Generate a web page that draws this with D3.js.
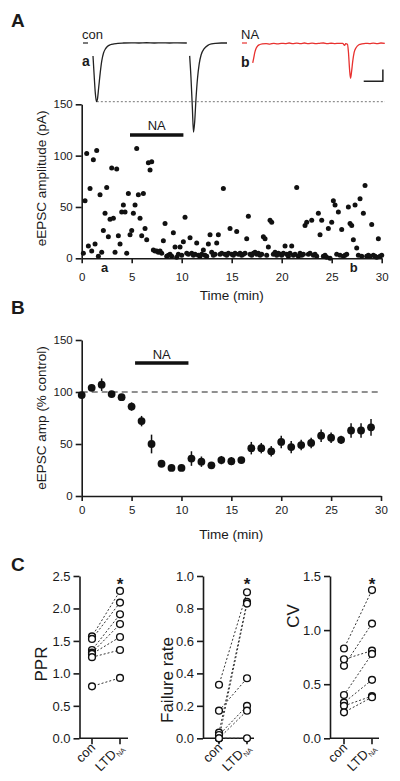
<!DOCTYPE html>
<html><head><meta charset="utf-8">
<script src="https://cdn.jsdelivr.net/npm/d3@7/dist/d3.min.js"></script>
<style>
body{margin:0;background:#fff}
svg{display:block}
text{font-family:"Liberation Sans",Arial,sans-serif;fill:#1a1a1a}
</style>
</head><body>
<svg id="fig" width="400" height="781"></svg>
<script>
// ---------- Panel A: single-sweep eEPSC amplitudes (one sweep every 10 s) ----------
const sweepIntervalMin = 1 / 6;
const sweepAmps = [
  5, 56, 102, 12, 68, 7, 96, 14, 105, 2, 62, 6, 27, 44, 69, 21, 38, 88, 39, 6,
  87, 22, 14, 45, 52, 45, 5, 63, 23, 27, 44, 52, 107, 62, 39, 22, 63, 29, 18, 93,
  86, 94, 8, 7, 7, 6, 7, 5, 17, 34, 2, 3, 4, 2, 25, 11, 1, 4, 11, 3,
  16, 40, 5, 4, 20, 5, 3, 4, 15, 3, 2, 4, 8, 3, 2, 14, 23, 6, 3, 4,
  15, 23, 4, 5, 68, 4, 3, 5, 29, 4, 3, 5, 26, 4, 5, 3, 4, 5, 19, 41,
  4, 3, 5, 6, 4, 5, 3, 4, 21, 19, 3, 11, 37, 35, 4, 6, 3, 5, 4, 3,
  5, 12, 4, 2, 5, 12, 3, 4, 69, 2, 5, 3, 4, 32, 35, 4, 5, 37, 3, 4,
  2, 44, 23, 37, 2, 3, 1, 29, 0, 35, 56, 52, 4, 45, 3, 28, 2, 3, 4, 50,
  34, 32, 18, 52, 10, 3, 58, 2, 44, 71, 2, 3, 2, 33, 3, 2, 1, 19, 2, 3
];
const naBarA = [4.83, 10.17];
const timeTicks = [0, 5, 10, 15, 20, 25, 30];
const ampTicks = [0, 50, 100, 150];
const sampleSweeps = [{label: "a", t: 2.3}, {label: "b", t: 27.2}];

// example traces (ms, pA)
const traceConA = [[0,-22],[0.6,-55],[1.2,-85],[1.8,-100],[2.3,-96],[3,-75],[3.8,-50],[4.6,-30],[5.5,-17],[6.5,-10],[7.5,-6],[9,-3],[11,-1.5],[13,-0.5],[16,0],[20,0.3],[24,0],[28,0.4],[32,0],[36,0.3],[40,0],[44,0.3],[49,0]];
const traceConB = [[50.5,-22],[51.2,-60],[51.9,-110],[52.5,-152],[53.1,-135],[53.8,-95],[54.6,-60],[55.5,-35],[56.5,-20],[58,-10],[60,-4],[62,-1.5],[64,-0.5],[67,0],[70,0]];
const traceNA = [[0,-34],[0.5,-26],[1.1,-16],[1.8,-9],[2.6,-5],[3.5,-3],[5,-1.5],[7,-1],[9,-2],[11,-0.5],[13,-1.5],[15,-0.5],[17,-1],[19,0],[21,-1.2],[23,-0.3],[25,-1],[27,0],[29,-1],[31,-0.3],[33,-1.2],[35,-0.5],[37,0],[39,-1],[41,-0.4],[43,-1],[45,-0.5],[47,-0.8],[48,-4],[48.6,-1],[49.5,-2],[50,-15],[50.6,-45],[51.1,-60],[51.6,-50],[52.3,-30],[53,-16],[54,-8],[55.5,-3],[57,-1.5],[59,-0.5],[61,-1],[63,-0.3],[65,-1],[67,0],[69,-0.5]];
const scaleBar = {ms: 10, pA: 20};

// ---------- Panel B: averaged time course ----------
const avgTimes = [0,1,2,3,4,5,6,7,8,9,10,11,12,13,14,15,16,17,18,19,20,21,22,23,24,25,26,27,28,29];
const avgMeans = [97,104,107,98,95,86,72,50,31,27,27,36,33,29.5,34.5,33.5,34.5,46,46,43,52,47,49,51,58,56,54,63,63,66];
const avgErrs  = [3,3,6,3,3,4,5,9,3,2,2,7,5,3,4,4,3,6,5,5,6,6,5,5,6,5,4,7,7,8];
const naBarB = [5.35, 10.7];
const pctTicks = [0, 50, 100, 150];

// ---------- Panel C: paired comparisons ----------
const groups = ["con", "LTD"];
const pprCon  = [1.57, 1.53, 1.36, 1.32, 1.30, 1.25, 0.80];
const pprLtd  = [2.27, 2.09, 1.91, 1.76, 1.56, 1.36, 0.93];
const failCon = [0.33, 0.035, 0.0, 0.17, 0.02, 0.0, 0.0];
const failLtd = [0.90, 0.84, 0.83, 0.37, 0.20, 0.17, 0.0];
const cvCon   = [0.83, 0.67, 0.73, 0.40, 0.33, 0.30, 0.24];
const cvLtd   = [1.37, 1.06, 0.81, 0.78, 0.54, 0.39, 0.38];
const pprTicks  = [0, 0.5, 1.0, 1.5, 2.0, 2.5];
const failTicks = [0, 0.2, 0.4, 0.6, 0.8, 1.0];
const cvTicks   = [0, 0.5, 1.0, 1.5];

// =====================================================================
const svg = d3.select("#fig");
const ink = "#1a1a1a";

function styleAxis(g, w) {
  g.selectAll(".domain").attr("stroke", ink).attr("stroke-width", w || 1.6);
  g.selectAll(".tick line").attr("stroke", ink).attr("stroke-width", w || 1.6);
  g.selectAll(".tick text").attr("fill", ink);
}
function panelLetter(txt, x, y) {
  svg.append("text").attr("x", x).attr("y", y).attr("font-size", 19).attr("font-weight", "bold").text(txt);
}

// ---------------- Panel A ----------------
panelLetter("A", 11, 27);

const tx1 = d3.scaleLinear([0, 70], [93, 227]);
const tx2 = d3.scaleLinear([0, 70], [252.7, 386.7]);
const ty = d3.scaleLinear([0, -100], [43, 101.7]);

svg.append("line").attr("x1", tx1(2)).attr("x2", 385).attr("y1", ty(-100)).attr("y2", ty(-100))
  .attr("stroke", "#777").attr("stroke-width", 1).attr("stroke-dasharray", "2,2");

const lineCon = d3.line().x(d => tx1(d[0])).y(d => ty(d[1])).curve(d3.curveMonotoneX);
const lineNA = d3.line().x(d => tx2(d[0])).y(d => ty(d[1])).curve(d3.curveMonotoneX);
svg.append("path").attr("d", lineCon(traceConA)).attr("fill", "none").attr("stroke", "#222").attr("stroke-width", 1.3);
svg.append("path").attr("d", lineCon(traceConB)).attr("fill", "none").attr("stroke", "#222").attr("stroke-width", 1.3);
svg.append("path").attr("d", lineNA(traceNA)).attr("fill", "none").attr("stroke", "#e8312f").attr("stroke-width", 1.3);

svg.append("text").attr("x", 82).attr("y", 39).attr("font-size", 13).text("con");
svg.append("line").attr("x1", 83).attr("x2", 88).attr("y1", ty(0)).attr("y2", ty(0)).attr("stroke", "#222").attr("stroke-width", 1.2);
svg.append("text").attr("x", 82).attr("y", 66).attr("font-size", 14).attr("font-weight", "bold").text("a");
svg.append("text").attr("x", 241).attr("y", 39).attr("font-size", 13).text("NA");
svg.append("line").attr("x1", 242).attr("x2", 247).attr("y1", ty(0)).attr("y2", ty(0)).attr("stroke", "#e8312f").attr("stroke-width", 1.2);
svg.append("text").attr("x", 241).attr("y", 67).attr("font-size", 14).attr("font-weight", "bold").text("b");

const sbX = 68, sbY = -65;
svg.append("path")
  .attr("d", `M${tx2(sbX - scaleBar.ms)},${ty(sbY)}H${tx2(sbX)}V${ty(sbY + scaleBar.pA)}`)
  .attr("fill", "none").attr("stroke", "#222").attr("stroke-width", 1.5);

const xA = d3.scaleLinear([0, 30], [81.7, 381.7]);
const yA = d3.scaleLinear([0, 150], [258.3, 104.3]);

svg.append("g").attr("transform", `translate(81.7,0)`)
  .call(d3.axisLeft(yA).tickValues(ampTicks).tickSize(6).tickSizeOuter(0).tickPadding(3))
  .call(g => g.selectAll("text").attr("font-size", 11.5).attr("font-family", "Liberation Sans, Arial, sans-serif"))
  .call(g => styleAxis(g));
svg.append("g").attr("transform", `translate(0,258.3)`)
  .call(d3.axisBottom(xA).tickValues(timeTicks).tickSize(5).tickSizeOuter(0).tickPadding(10))
  .call(g => g.selectAll("text").attr("font-size", 11.5).attr("font-family", "Liberation Sans, Arial, sans-serif"))
  .call(g => styleAxis(g));

svg.append("g").selectAll("circle").data(sweepAmps).join("circle")
  .attr("cx", (d, i) => xA((i + 1) * sweepIntervalMin))
  .attr("cy", d => yA(d)).attr("r", 2.5).attr("fill", "#111");

svg.append("g").selectAll("text").data(sampleSweeps).join("text")
  .attr("x", d => xA(d.t)).attr("y", 272).attr("text-anchor", "middle")
  .attr("font-size", 13).attr("font-weight", "bold").text(d => d.label);

svg.append("line").attr("x1", xA(naBarA[0])).attr("x2", xA(naBarA[1])).attr("y1", 135).attr("y2", 135)
  .attr("stroke", "#111").attr("stroke-width", 3.5);
svg.append("text").attr("x", xA((naBarA[0] + naBarA[1]) / 2)).attr("y", 130).attr("text-anchor", "middle")
  .attr("font-size", 13).text("NA");

svg.append("text").attr("x", xA(15)).attr("y", 300).attr("text-anchor", "middle").attr("font-size", 13.5).text("Time (min)");
svg.append("text").attr("transform", `translate(46,${(yA(0) + yA(150)) / 2 - 3}) rotate(-90)`)
  .attr("text-anchor", "middle").attr("font-size", 13.5).text("eEPSC amplitude (pA)");

// ---------------- Panel B ----------------
panelLetter("B", 11, 314);
const xB = d3.scaleLinear([0, 30], [81.7, 381]);
const yB = d3.scaleLinear([0, 150], [496, 340]);

svg.append("g").attr("transform", `translate(81.7,0)`)
  .call(d3.axisLeft(yB).tickValues(pctTicks).tickSize(6).tickSizeOuter(0).tickPadding(3))
  .call(g => g.selectAll("text").attr("font-size", 11.5).attr("font-family", "Liberation Sans, Arial, sans-serif"))
  .call(g => styleAxis(g));
svg.append("g").attr("transform", `translate(0,496)`)
  .call(d3.axisBottom(xB).tickValues(timeTicks).tickSize(5).tickSizeOuter(0).tickPadding(5))
  .call(g => g.selectAll("text").attr("font-size", 11.5).attr("font-family", "Liberation Sans, Arial, sans-serif"))
  .call(g => styleAxis(g));

svg.append("line").attr("x1", xB(0)).attr("x2", xB(30)).attr("y1", yB(100)).attr("y2", yB(100))
  .attr("stroke", "#222").attr("stroke-width", 1.2).attr("stroke-dasharray", "6,4");

const bData = avgTimes.map((t, i) => ({t, m: avgMeans[i], e: avgErrs[i]}));
svg.append("g").selectAll("line").data(bData).join("line")
  .attr("x1", d => xB(d.t)).attr("x2", d => xB(d.t))
  .attr("y1", d => yB(d.m - d.e)).attr("y2", d => yB(d.m + d.e))
  .attr("stroke", "#111").attr("stroke-width", 1.5);
svg.append("g").selectAll("circle").data(bData).join("circle")
  .attr("cx", d => xB(d.t)).attr("cy", d => yB(d.m)).attr("r", 3.9).attr("fill", "#111");

svg.append("line").attr("x1", xB(naBarB[0])).attr("x2", xB(naBarB[1])).attr("y1", 363).attr("y2", 363)
  .attr("stroke", "#111").attr("stroke-width", 3.5);
svg.append("text").attr("x", xB((naBarB[0] + naBarB[1]) / 2)).attr("y", 359).attr("text-anchor", "middle")
  .attr("font-size", 13).text("NA");

svg.append("text").attr("x", xB(15)).attr("y", 539).attr("text-anchor", "middle").attr("font-size", 13.5).text("Time (min)");
svg.append("text").attr("transform", `translate(46,${(yB(0) + yB(150)) / 2}) rotate(-90)`)
  .attr("text-anchor", "middle").attr("font-size", 13.5).text("eEPSC amp (% control)");

// ---------------- Panel C ----------------
panelLetter("C", 11, 571);
const yTopC = 576, yBotC = 738.3;
const subpanels = [
  {title: "PPR", con: pprCon, ltd: pprLtd, ticks: pprTicks, max: 2.5, axisX: 79.5, pos: [92, 120], end: 128, titleX: 47, titleY: 664},
  {title: "Failure rate", con: failCon, ltd: failLtd, ticks: failTicks, max: 1.0, axisX: 203, pos: [219, 247], end: 254, titleX: 173, titleY: 680},
  {title: "CV", con: cvCon, ltd: cvLtd, ticks: cvTicks, max: 1.5, axisX: 330, pos: [344, 372], end: 379, titleX: 299, titleY: 616}
];

subpanels.forEach(p => {
  const y = d3.scaleLinear([0, p.max], [yBotC, yTopC]);
  const x = d3.scaleOrdinal(groups, p.pos);
  svg.append("g").attr("transform", `translate(${p.axisX},0)`)
    .call(d3.axisLeft(y).tickValues(p.ticks).tickFormat(d3.format(".1f")).tickSize(6).tickSizeOuter(0).tickPadding(3))
    .call(g => g.selectAll("text").attr("font-size", 13).attr("font-family", "Liberation Sans, Arial, sans-serif"))
    .call(g => styleAxis(g));
  const gx = svg.append("g");
  gx.append("line").attr("x1", p.axisX).attr("x2", p.end).attr("y1", yBotC).attr("y2", yBotC)
    .attr("stroke", ink).attr("stroke-width", 1.6);
  groups.forEach(gname => {
    gx.append("line").attr("x1", x(gname)).attr("x2", x(gname)).attr("y1", yBotC).attr("y2", yBotC + 6)
      .attr("stroke", ink).attr("stroke-width", 1.6);
  });
  gx.append("text").attr("transform", `translate(${x("con") + 4},${yBotC + 10}) rotate(-45)`)
    .attr("text-anchor", "end").attr("font-size", 13).text("con");
  const lab2 = gx.append("text").attr("transform", `translate(${x("LTD") + 4},${yBotC + 10}) rotate(-45)`)
    .attr("text-anchor", "end").attr("font-size", 13);
  lab2.append("tspan").text("LTD");
  lab2.append("tspan").attr("font-size", 7).attr("dy", 3).text("NA");

  const pairs = p.con.map((c, i) => [c, p.ltd[i]]);
  svg.append("g").selectAll("line").data(pairs).join("line")
    .attr("x1", x("con")).attr("x2", x("LTD"))
    .attr("y1", d => y(d[0])).attr("y2", d => y(d[1]))
    .attr("stroke", "#333").attr("stroke-width", 1).attr("stroke-dasharray", "2,2")
    .attr("stroke-dashoffset", (d, i) => i % 2 ? 0 : 2);
  const pts = p.con.map(v => ({g: "con", v})).concat(p.ltd.map(v => ({g: "LTD", v})));
  svg.append("g").selectAll("circle").data(pts).join("circle")
    .attr("cx", d => x(d.g)).attr("cy", d => y(d.v)).attr("r", 3.4)
    .attr("fill", "#fff").attr("stroke", "#111").attr("stroke-width", 1.4);
  svg.append("text").attr("x", x("LTD")).attr("y", 590).attr("text-anchor", "middle")
    .attr("font-size", 17).attr("font-weight", "bold").text("*");
  svg.append("text").attr("transform", `translate(${p.titleX},${p.titleY}) rotate(-90)`)
    .attr("text-anchor", "middle").attr("font-size", 17).text(p.title);
});
</script>
</body></html>
